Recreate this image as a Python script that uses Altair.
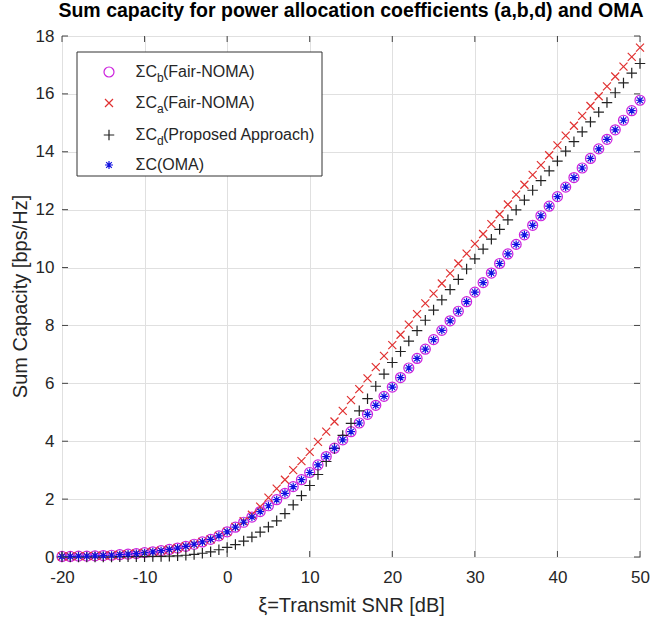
import altair as alt
import pandas as pd

snr = list(range(-20, 51))

cap_oma = [0.02, 0.02, 0.03, 0.03, 0.04, 0.05, 0.06, 0.08, 0.10, 0.12,
           0.15, 0.18, 0.22, 0.26, 0.31, 0.37, 0.44, 0.52, 0.61, 0.73,
           0.87, 1.03, 1.20, 1.38, 1.57, 1.77, 1.98, 2.20, 2.43, 2.67,
           2.92, 3.18, 3.47, 3.76, 4.05, 4.33, 4.63, 4.93, 5.24, 5.55,
           5.87, 6.20, 6.53, 6.86, 7.18, 7.51, 7.83, 8.16, 8.49, 8.82,
           9.15, 9.48, 9.81, 10.14, 10.47, 10.80, 11.13, 11.46, 11.79, 12.12,
           12.45, 12.78, 13.11, 13.44, 13.77, 14.10, 14.43, 14.76, 15.09, 15.42,
           15.78]

cap_b = [0.02, 0.02, 0.03, 0.03, 0.04, 0.05, 0.06, 0.08, 0.10, 0.12,
         0.15, 0.18, 0.22, 0.26, 0.31, 0.37, 0.44, 0.52, 0.61, 0.73,
         0.87, 1.03, 1.20, 1.38, 1.57, 1.77, 1.98, 2.20, 2.43, 2.67,
         2.92, 3.18, 3.47, 3.76, 4.05, 4.33, 4.63, 4.93, 5.24, 5.55,
         5.87, 6.20, 6.53, 6.86, 7.18, 7.51, 7.83, 8.16, 8.49, 8.82,
         9.15, 9.48, 9.81, 10.14, 10.47, 10.80, 11.13, 11.46, 11.79, 12.12,
         12.45, 12.78, 13.11, 13.44, 13.77, 14.10, 14.43, 14.76, 15.09, 15.42,
         15.78]

cap_a = [0.02, 0.02, 0.03, 0.03, 0.04, 0.05, 0.06, 0.08, 0.10, 0.12,
         0.15, 0.18, 0.22, 0.26, 0.31, 0.37, 0.44, 0.52, 0.61, 0.73,
         0.87, 1.04, 1.24, 1.46, 1.74, 2.05, 2.36, 2.67, 3.00, 3.31,
         3.63, 3.98, 4.33, 4.68, 5.05, 5.42, 5.80, 6.17, 6.56, 6.95,
         7.32, 7.68, 8.03, 8.39, 8.76, 9.10, 9.45, 9.80, 10.14, 10.48,
         10.82, 11.16, 11.50, 11.84, 12.18, 12.52, 12.86, 13.20, 13.54, 13.88,
         14.22, 14.56, 14.90, 15.24, 15.58, 15.92, 16.26, 16.60, 16.94, 17.28,
         17.60]

cap_d = [0.00, 0.00, 0.00, 0.00, 0.00, 0.00, 0.00, 0.01, 0.01, 0.01,
         0.01, 0.02, 0.02, 0.03, 0.04, 0.06, 0.09, 0.13, 0.18, 0.25,
         0.33, 0.43, 0.55, 0.69, 0.86, 1.04, 1.25, 1.50, 1.80, 2.12,
         2.47, 2.85, 3.30, 3.75, 4.20, 4.62, 5.05, 5.47, 5.90, 6.32,
         6.72, 7.10, 7.46, 7.82, 8.18, 8.53, 8.88, 9.24, 9.59, 9.95,
         10.30, 10.64, 10.98, 11.32, 11.65, 11.99, 12.33, 12.67, 13.00, 13.34,
         13.68, 14.02, 14.35, 14.69, 15.03, 15.37, 15.70, 16.04, 16.38, 16.72,
         17.05]

x_ticks = [-20, -10, 0, 10, 20, 30, 40, 50]
y_ticks = [0, 2, 4, 6, 8, 10, 12, 14, 16, 18]

legend_main = ["ΣC", "ΣC", "ΣC", "ΣC"]
legend_sub = ["b", "a", "d", ""]
legend_rest = ["(Fair-NOMA)", "(Fair-NOMA)", "(Proposed Approach)", "(OMA)"]

CIRCLE = "circle"
XSHAPE = "M-1,-1L1,1M-1,1L1,-1"
PLUS = "M-1,0L1,0M0,-1L0,1"
STAR = "M-1,0L1,0M0,-1L0,1M-0.7,-0.7L0.7,0.7M-0.7,0.7L0.7,-0.7"

styles = [
    (cap_b, CIRCLE, "#cc22dd", 100),
    (cap_a, XSHAPE, "#e03030", 64),
    (cap_d, PLUS, "#222222", 110),
    (cap_oma, STAR, "#1010e0", 64),
]

FONT = "Liberation Sans"
W, H = 578, 521
TICK_COLOR = "#444444"

xscale = alt.Scale(domain=[-20, 50], nice=False, zero=False)
yscale = alt.Scale(domain=[0, 18], nice=False)

layers = []
for vals, shape, color, size in styles:
    df = pd.DataFrame({"snr": snr, "cap": vals})
    layers.append(
        alt.Chart(df).mark_point(shape=shape, filled=False, stroke=color,
                                 strokeWidth=1.2, size=size, opacity=1)
        .encode(
            x=alt.X("snr:Q", scale=xscale,
                    axis=alt.Axis(values=x_ticks, title="ξ=Transmit SNR [dB]",
                                  labelExpr="'' + datum.value",
                                  titleY=48, titleBaseline="middle")),
            y=alt.Y("cap:Q", scale=yscale,
                    axis=alt.Axis(values=y_ticks, title="Sum Capacity [bps/Hz]",
                                  labelExpr="'' + datum.value",
                                  titleX=-42, titleY=260, titleBaseline="middle")),
        )
    )

# inward tick marks (MATLAB style) on all four sides
xt = pd.DataFrame({"snr": x_ticks})
yt = pd.DataFrame({"cap": y_ticks})
for y0, y1 in [(H, H - 6), (0, 6)]:
    layers.append(
        alt.Chart(xt).mark_rule(color=TICK_COLOR, strokeWidth=1)
        .encode(x=alt.X("snr:Q", scale=xscale), y=alt.value(y0), y2=alt.value(y1))
    )
for x0, x1 in [(0, 6), (W, W - 6)]:
    layers.append(
        alt.Chart(yt).mark_rule(color=TICK_COLOR, strokeWidth=1)
        .encode(y=alt.Y("cap:Q", scale=yscale), x=alt.value(x0), x2=alt.value(x1))
    )

one = alt.Data(values=[{"k": 1}])

# legend box
layers.append(
    alt.Chart(one).mark_rect(fill="white", stroke="#333333", strokeWidth=1)
    .encode(x=alt.value(15), x2=alt.value(260), y=alt.value(16), y2=alt.value(140))
)

row_y = [36, 67, 99, 129]
for i, (vals, shape, color, size) in enumerate(styles):
    yy = row_y[i]
    layers.append(
        alt.Chart(one).mark_point(shape=shape, filled=False, stroke=color,
                                  strokeWidth=1.2, size=size, opacity=1)
        .encode(x=alt.value(47), y=alt.value(yy))
    )
    layers.append(
        alt.Chart(one).mark_text(text=legend_main[i], align="right", baseline="middle",
                                 fontSize=16, font=FONT, color="#262626")
        .encode(x=alt.value(95), y=alt.value(yy))
    )
    rest_x = 95
    if legend_sub[i]:
        layers.append(
            alt.Chart(one).mark_text(text=legend_sub[i], align="left", baseline="middle",
                                     fontSize=12, font=FONT, color="#262626")
            .encode(x=alt.value(95), y=alt.value(yy + 6))
        )
        rest_x = 101
    layers.append(
        alt.Chart(one).mark_text(text=legend_rest[i], align="left", baseline="middle",
                                 fontSize=16, font=FONT, color="#262626")
        .encode(x=alt.value(rest_x), y=alt.value(yy))
    )

chart = (
    alt.layer(*layers)
    .properties(
        width=W, height=H,
        title=alt.Title("Sum capacity for power allocation coefficients (a,b,d) and OMA",
                        fontSize=19.5, font=FONT, fontWeight="bold", color="#000000",
                        anchor="middle", offset=6),
        padding={"left": 62, "top": 36, "right": 10, "bottom": 62},
        autosize=alt.AutoSizeParams(type="none"),
    )
    .configure_view(stroke="#555555", strokeWidth=1)
    .configure_axis(
        domain=False, ticks=False, tickSize=0, labelFlush=False,
        grid=True, gridColor="#e0e0e0", gridWidth=1,
        labelFont=FONT, labelFontSize=17, labelColor="#262626",
        titleFont=FONT, titleFontSize=20, titleFontWeight="normal", titleColor="#262626",
    )
    .configure_axisX(labelPadding=12)
    .configure_axisY(labelPadding=8)
)

chart.save("out.html", embed_options={"renderer": "svg", "actions": False})
